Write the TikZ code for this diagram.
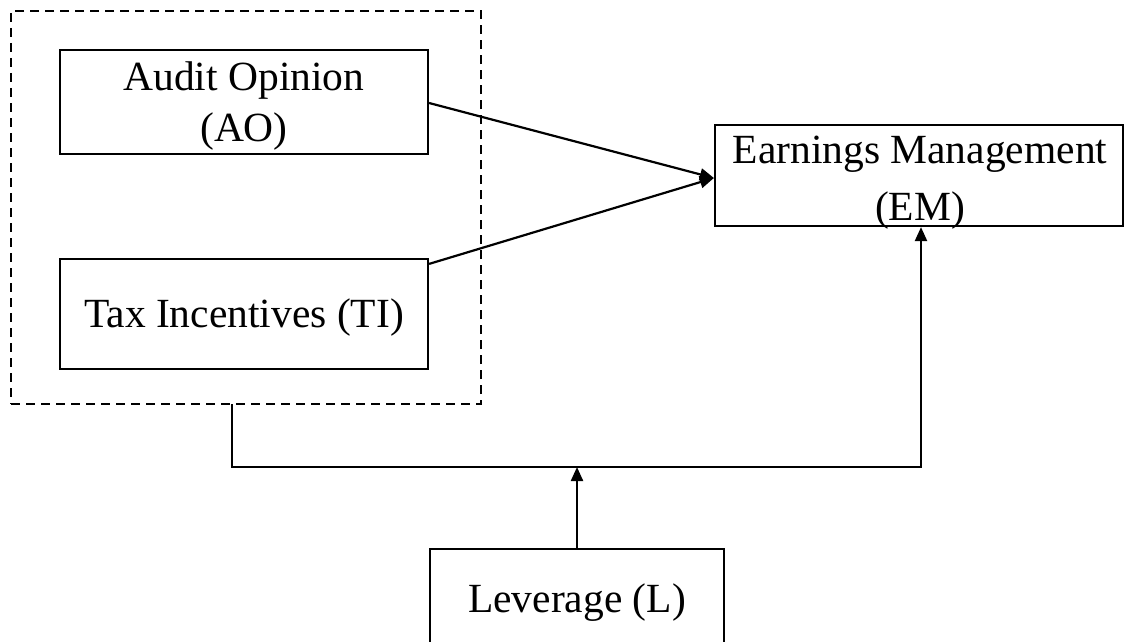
\documentclass[tikz,border=0pt]{standalone}
\usepackage{fontspec}
\setmainfont{Liberation Serif}
\usetikzlibrary{arrows.meta,calc}
\begin{document}
\begin{tikzpicture}[x=1pt,y=-1pt,
  box/.style={draw,line width=2.2pt,rectangle,inner sep=0pt},
  txt/.style={align=center,inner sep=0pt,font=\fontsize{41.5}{51}\selectfont},
  grpbox/.style={draw,line width=2pt,dash pattern=on 9pt off 6pt,rectangle,inner sep=0pt},
  arr/.style={line width=2.2pt,-{Triangle[length=14pt,width=12pt]}}]
\useasboundingbox (0,0) rectangle (1124,642);
% group box
\node[grpbox,minimum width=470pt,minimum height=393pt] (grp) at (246,207.5) {};
% boxes
\node[box,minimum width=368pt,minimum height=104pt] (AO) at (244,102) {};
\node[txt,anchor=base] (AOt) at (244,141) {Audit Opinion\\(AO)};
\node[box,minimum width=368pt,minimum height=110pt] (TI) at (244,314) {};
\node[txt,anchor=base] (TIt) at (244,327) {Tax Incentives (TI)};
\node[box,minimum width=408pt,minimum height=101pt] (EM) at (919,175.5) {};
\node[txt,anchor=base,font=\fontsize{41.5}{57}\selectfont] (EMt) at (920,220) {Earnings Management\\(EM)};
\node[box,minimum width=294pt,minimum height=131pt] (L) at (577,614.5) {};
\node[txt,anchor=base] (Lt) at (577,612) {Leverage (L)};
% connectors
\coordinate (gb) at (232,404);
\coordinate (j) at (577,467);
\draw[arr] ([yshift=-1pt]AO.east) -- ([yshift=-2.5pt]EM.west);
\draw[arr] ([yshift=-6pt]TI.north east) -- ([yshift=-2.5pt]EM.west);
\draw[arr] (gb) |- (j) -| ([xshift=2pt]EM.south);
\draw[arr] (L.north) -- (j);
\end{tikzpicture}
\end{document}
